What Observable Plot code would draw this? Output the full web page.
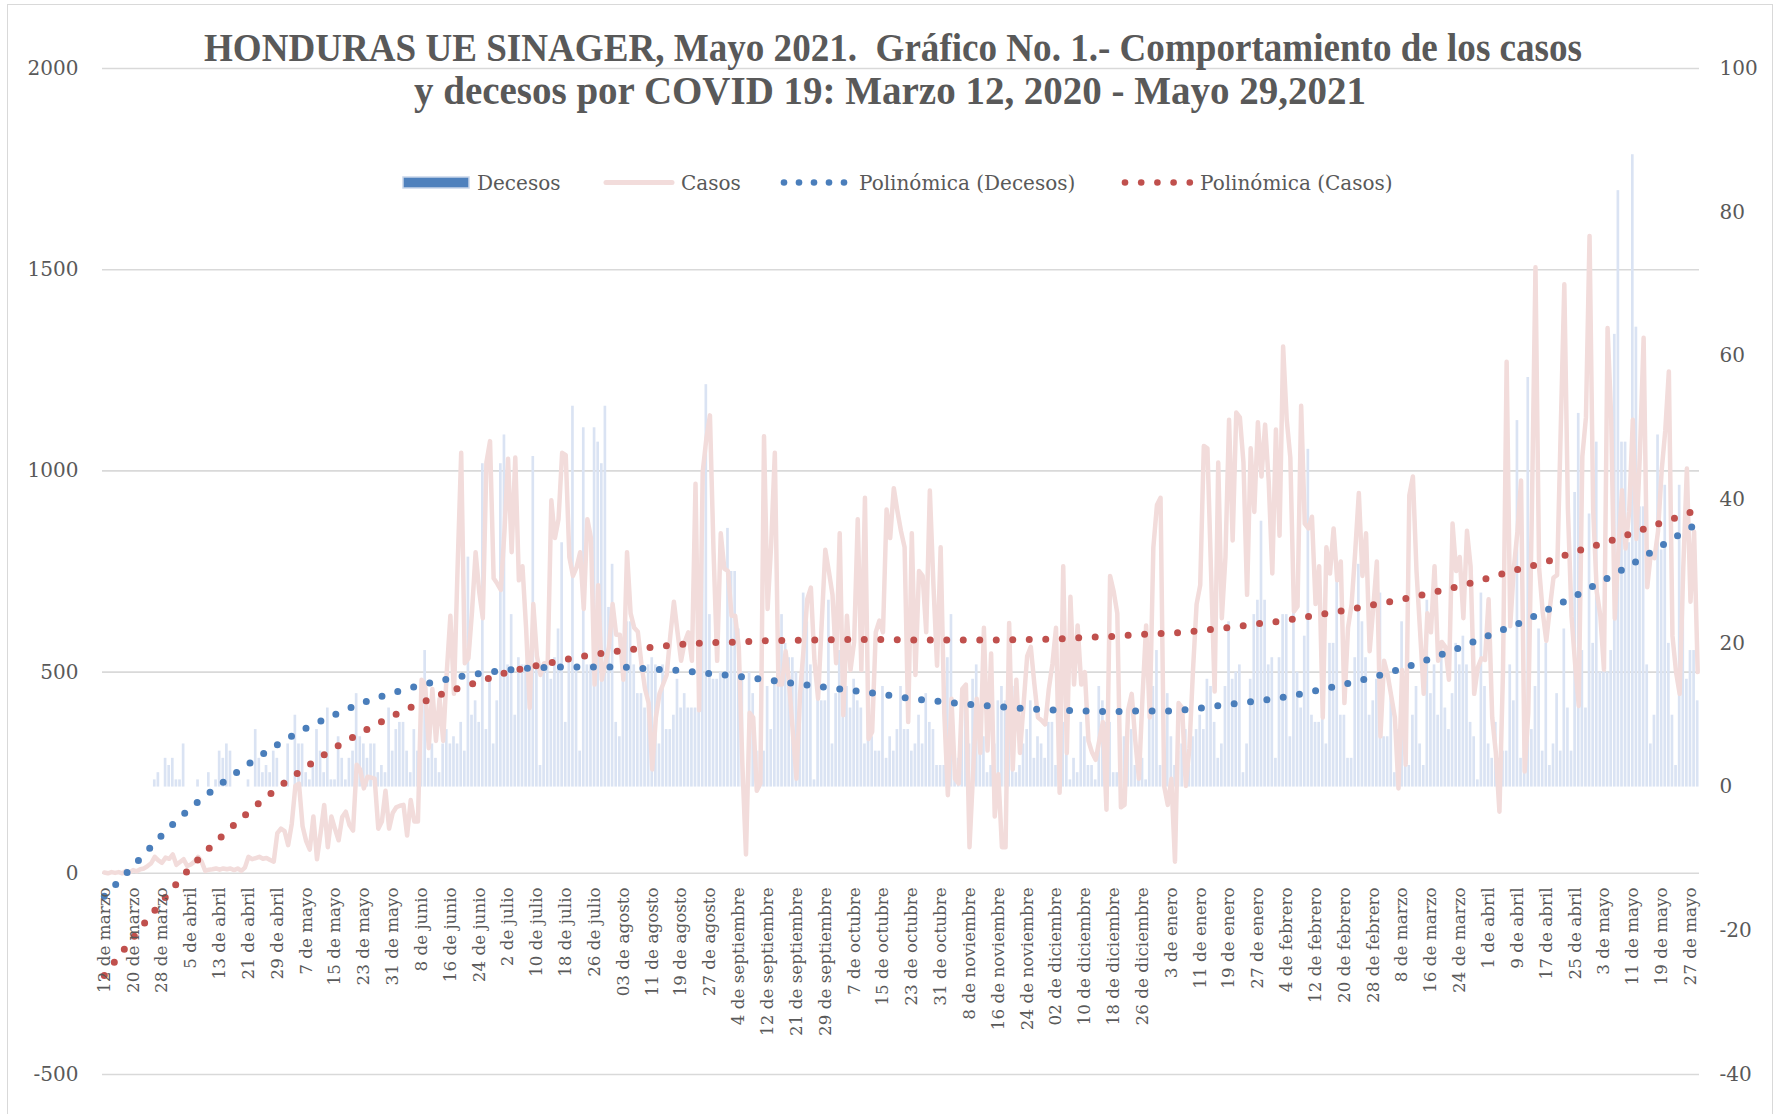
<!DOCTYPE html>
<html><head><meta charset="utf-8">
<script src="https://cdn.jsdelivr.net/npm/d3@7"></script>
<script src="https://cdn.jsdelivr.net/npm/@observablehq/plot@0.6"></script>
<style>
html,body{margin:0;padding:0;background:#fff;overflow:hidden}
#wrap{position:relative;width:1781px;height:1114px;background:#fff}
#wrap > svg{position:absolute;left:0;top:0}
#border{position:absolute;left:7px;top:4px;width:1766px;height:1130px;border:1.5px solid #d9d9d9;box-sizing:border-box;pointer-events:none}
</style></head>
<body><div id="wrap"><div id="border"></div></div>
<script>
const titleLines = [
  "HONDURAS UE SINAGER, Mayo 2021.\u00A0 Gráfico No. 1.- Comportamiento de los casos",
  "y decesos por COVID 19: Marzo 12, 2020 - Mayo 29,2021"
];
const seriesNames = ["Decesos", "Casos", "Polinómica (Decesos)", "Polinómica (Casos)"];

const labels = ["12 de marzo","20 de marzo","28 de marzo","5 de abril","13 de abril","21 de abril","29 de abril","7 de mayo","15 de mayo","23 de mayo","31 de mayo","8 de junio","16 de junio","24 de junio","2 de julio","10 de julio","18 de julio","26 de julio","03 de agosto","11 de agosto","19 de agosto","27 de agosto","4 de septiembre","12 de septiembre","21 de septiembre","29 de septiembre","7 de octubre","15 de octubre","23 de octubre","31 de octubre","8 de noviembre","16 de noviembre","24 de noviembre","02 de diciembre","10 de diciembre","18 de diciembre","26 de diciembre","3 de enero","11 de enero","19 de enero","27 de enero","4 de febrero","12 de febrero","20 de febrero","28 de febrero","8 de marzo","16 de marzo","24 de marzo","1 de abril","9 de abril","17 de abril","25 de abril","3 de mayo","11 de mayo","19 de mayo","27 de mayo"];

// daily confirmed cases (left axis), 12 Mar 2020 .. 29 May 2021
const casos = [
  2, 0, 3, 1, 3, 0, 6, 2, 8, 5,
  10, 12, 18, 25, 41, 32, 26, 39, 36, 47,
  21, 28, 35, 18, 22, 29, 41, 29, 6, 9,
  10, 12, 9, 12, 10, 12, 8, 12, 6, 14,
  41, 35, 38, 41, 36, 38, 33, 29, 100, 111,
  105, 70, 123, 217, 223, 117, 80, 59, 141, 35,
  100, 170, 65, 141, 110, 82, 140, 153, 120, 106,
  270, 258, 211, 240, 238, 235, 111, 129, 205, 111,
  150, 164, 168, 170, 94, 182, 129, 129, 481, 470,
  311, 458, 329, 434, 329, 500, 640, 446, 760, 1045,
  522, 534, 650, 798, 700, 634, 1021, 1074, 733, 720,
  704, 850, 1030, 798, 1033, 728, 763, 610, 411, 669,
  540, 493, 522, 522, 927, 833, 880, 1045, 1039, 786,
  739, 760, 798, 657, 880, 833, 469, 716, 481, 520,
  563, 669, 593, 593, 481, 798, 646, 610, 600, 520,
  458, 423, 258, 387, 446, 470, 493, 590, 675, 600,
  528, 575, 599, 528, 968, 405, 998, 1080, 1138, 800,
  528, 845, 757, 751, 640, 640, 563, 270, 47, 399,
  387, 205, 223, 1086, 657, 820, 1045, 469, 469, 552,
  469, 350, 235, 446, 560, 681, 710, 528, 434, 620,
  804, 750, 692, 522, 845, 393, 640, 505, 575, 880,
  505, 933, 334, 352, 599, 628, 599, 904, 833, 957,
  900, 850, 810, 376, 845, 493, 751, 739, 599, 951,
  716, 516, 810, 400, 194, 434, 235, 223, 458, 469,
  65, 250, 434, 299, 610, 305, 546, 141, 246, 65,
  65, 622, 258, 481, 299, 420, 540, 563, 470, 387,
  380, 370, 458, 520, 610, 200, 763, 299, 687, 469,
  616, 469, 500, 329, 300, 282, 330, 376, 158, 739,
  700, 646, 164, 170, 405, 446, 329, 235, 440, 616,
  387, 810, 915, 933, 217, 170, 235, 29, 423, 411,
  217, 311, 505, 669, 716, 1062, 1056, 751, 452, 1021,
  634, 786, 1127, 827, 1145, 1133, 1021, 692, 1056, 898,
  1121, 986, 1115, 974, 745, 1103, 839, 1309, 1127, 1033,
  651, 663, 1162, 869, 857, 886, 669, 763, 387, 810,
  745, 857, 728, 775, 423, 610, 669, 800, 945, 739,
  845, 552, 660, 775, 340, 528, 493, 440, 387, 211,
  505, 270, 939, 986, 751, 600, 446, 646, 599, 763,
  528, 575, 563, 481, 869, 751, 786, 634, 851, 763,
  446, 511, 534, 530, 681, 387, 300, 153, 505, 1271,
  614, 759, 850, 976, 253, 398, 900, 1506, 759, 650,
  578, 660, 735, 741, 1100, 1464, 904, 639, 520, 416,
  1036, 1133, 1584, 904, 700, 639, 506, 1355, 1133, 633,
  801, 952, 807, 900, 1127, 831, 1050, 1331, 711, 795,
  783, 850, 1000, 1100, 1247, 590, 500, 446, 759, 1006,
  675, 849, 500
];

// daily deaths (right axis)
const decesos = [
  0,0,0,0,0,0,0,0,0,0,
  0,0,0,0,1,2,0,4,3,4,
  1,1,6,0,0,0,1,0,0,2,
  0,1,5,4,6,5,0,0,0,0,
  1,0,8,4,2,3,2,5,4,0,
  1,6,0,10,6,6,2,1,3,8,
  5,2,11,1,1,7,4,1,4,5,
  13,7,6,4,6,6,2,3,2,11,
  5,8,9,9,5,2,8,5,10,19,
  4,6,4,2,6,8,6,7,6,9,
  5,32,10,12,9,45,8,15,6,12,
  45,49,17,24,10,18,17,17,17,46,
  17,3,16,17,15,18,22,34,9,18,
  53,17,5,50,17,17,50,48,45,53,
  25,31,9,7,17,23,23,17,13,13,
  11,17,18,17,6,17,8,8,10,15,
  11,13,11,11,11,11,44,56,24,15,
  15,16,16,36,30,30,22,16,0,16,
  13,5,5,5,14,8,15,14,24,20,
  18,18,16,10,27,23,17,1,15,12,
  12,26,6,13,19,10,14,11,15,12,
  11,6,8,7,5,5,14,4,7,5,
  8,14,8,8,5,6,10,6,13,9,
  8,3,3,3,18,24,4,4,13,14,
  6,15,17,10,7,2,3,6,12,14,
  12,8,14,2,3,6,8,12,4,7,
  6,4,9,9,3,6,9,12,1,4,
  2,9,7,3,3,1,14,12,9,9,
  2,2,2,7,8,8,3,3,4,1,
  14,14,19,3,7,13,7,3,5,6,
  8,3,7,8,10,8,15,14,9,4,
  6,14,23,15,16,17,2,6,15,24,
  26,37,26,17,18,4,18,24,24,7,
  25,16,11,21,47,10,9,9,12,6,
  20,20,29,10,10,4,4,18,31,23,
  18,10,12,15,27,7,7,13,2,8,
  23,4,3,10,14,6,3,26,13,17,
  10,18,11,8,13,20,17,21,17,9,
  7,1,27,14,6,4,9,4,5,5,
  17,12,51,4,5,57,8,14,22,5,
  20,3,6,13,5,22,11,5,41,52,
  19,11,38,20,48,16,18,16,19,63,
  83,48,48,34,88,64,39,39,17,6,
  10,49,33,42,20,10,3,42,28,15,
  19,19,12
];

// polynomial trend lines, at every labelled day and the last day
const trendDays = [0,8,16,24,32,40,48,56,64,72,80,88,96,104,112,120,128,136,144,152,160,168,176,184,192,200,208,216,224,232,240,248,256,264,272,280,288,296,304,312,320,328,336,344,352,360,368,376,384,392,400,408,416,424,432,440,442];
const trendDecesos = [-15.2,-11.0,-6.7,-2.9,0.3,3.2,5.9,8.2,10.1,11.8,13.1,14.2,15.1,15.8,16.3,16.6,16.7,16.7,16.7,16.4,16.2,15.8,15.4,14.9,14.4,13.9,13.4,12.9,12.3,11.9,11.5,11.2,10.9,10.7,10.6,10.5,10.6,10.6,11.0,11.5,12.0,12.6,13.4,14.3,15.3,16.5,17.9,19.4,21.1,22.7,24.6,26.6,28.8,31.1,33.6,36.1,36.8];
const trendCasos = [-254,-160,-70,15,87,152,211,264,312,353,391,424,453,476,500,516,531,544,554,562,569,573,575,578,579,580,581,581,580,580,580,580,581,582,586,589,594,597,603,611,620,629,641,653,667,681,697,714,734,755,774,799,821,846,871,897,903];

const leftTicks = [-500, 0, 500, 1000, 1500, 2000];
const rightTicks = [-40, -20, 0, 20, 40, 60, 80, 100];

// right axis [-40,100] shares the frame with the left axis [-500,2000]
const toLeft = d => -500 + (d + 40) * 2500 / 140;
const fromLeft = v => (v + 500) * 140 / 2500 - 40;

const rows = casos.map((c, i) => ({i, casos: c, decesos: decesos[i]}));
const trendD = trendDays.map((day, k) => ({day, v: toLeft(trendDecesos[k])}));
const trendC = trendDays.map((day, k) => ({day, v: trendCasos[k]}));
const tickRows = labels.map((label, k) => ({i: k * 8, label}));

const gray = "#595959";
const chart = Plot.plot({
  width: 1781, height: 1114,
  marginLeft: 102, marginRight: 82, marginTop: 68, marginBottom: 40,
  style: {fontFamily: "DejaVu Serif", background: "transparent", color: gray},
  x: {domain: [-0.5, casos.length - 0.5], axis: null},
  y: {domain: [-500, 2000], label: null},
  marks: [
    Plot.gridY(leftTicks, {stroke: "#d9d9d9", strokeOpacity: 1, strokeWidth: 1.6}),
    Plot.rect(rows.filter(d => d.decesos > 0), {
      x1: d => d.i - 0.37, x2: d => d.i + 0.37,
      y1: () => toLeft(0), y2: d => toLeft(d.decesos),
      fill: "#DAE3F3"
    }),
    Plot.line(rows, {x: "i", y: "casos", stroke: "#F2DCDB", strokeWidth: 4.5, strokeLinejoin: "round", strokeLinecap: "round"}),
    Plot.line(trendD, {x: "day", y: "v", curve: "natural", stroke: "#4A7EBB", strokeWidth: 7, strokeDasharray: "0 16.5", strokeLinecap: "round"}),
    Plot.line(trendC, {x: "day", y: "v", curve: "natural", stroke: "#C0504D", strokeWidth: 7, strokeDasharray: "0 16.5", strokeLinecap: "round"}),
    Plot.text(tickRows, {x: "i", y: () => 0, text: "label", rotate: -90, textAnchor: "end", lineAnchor: "middle", dy: 14, fontSize: 16.8, fill: gray}),
    Plot.axisY(leftTicks, {anchor: "left", tickSize: 0, tickPadding: 24, fontSize: 20, label: null, tickFormat: d => String(d), fill: gray}),
    Plot.axisY(rightTicks.map(toLeft), {anchor: "right", tickSize: 0, tickPadding: 20, fontSize: 20, label: null, tickFormat: d => String(Math.round(fromLeft(d))), fill: gray})
  ]
});
const wrap = document.getElementById("wrap");
wrap.insertBefore(chart, wrap.firstChild);

// title and legend overlay
const ns = "http://www.w3.org/2000/svg";
const over = document.createElementNS(ns, "svg");
over.setAttribute("width", 1781);
over.setAttribute("height", 1114);
over.style.pointerEvents = "none";
const dotsB = [0,1,2,3,4].map(k => `<circle cx="${784 + 15 * k}" cy="182.5" r="3.3" fill="#4A7EBB"/>`).join("");
const dotsR = [0,1,2,3,4].map(k => `<circle cx="${1125 + 16.2 * k}" cy="182.5" r="3.3" fill="#C0504D"/>`).join("");
over.innerHTML = `
<g font-family="Liberation Serif" font-weight="bold" font-size="40" fill="${gray}">
  <text x="204" y="61" textLength="1378" lengthAdjust="spacingAndGlyphs">${titleLines[0]}</text>
  <text x="414" y="104" textLength="952" lengthAdjust="spacingAndGlyphs">${titleLines[1]}</text>
</g>
<g font-family="DejaVu Serif" font-size="20" fill="${gray}">
  <rect x="403" y="177" width="66" height="11" fill="#4F81BD" stroke="#C9D6EA" stroke-width="1.5"/>
  <text x="477" y="190">${seriesNames[0]}</text>
  <line x1="606" x2="672" y1="182.5" y2="182.5" stroke="#F2DCDB" stroke-width="5" stroke-linecap="round"/>
  <text x="681" y="190">${seriesNames[1]}</text>
  ${dotsB}
  <text x="859" y="190">${seriesNames[2]}</text>
  ${dotsR}
  <text x="1200" y="190">${seriesNames[3]}</text>
</g>`;
wrap.appendChild(over);
</script></body></html>
